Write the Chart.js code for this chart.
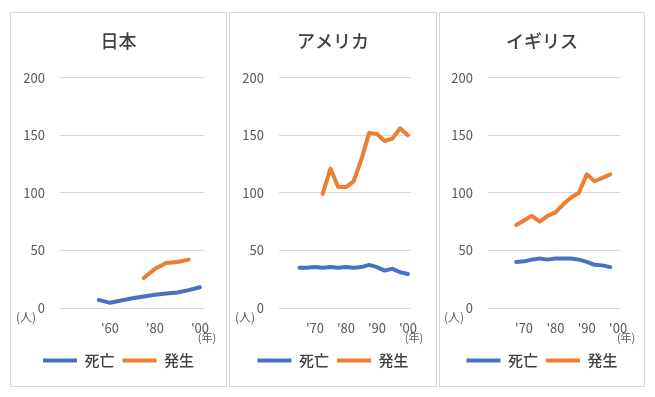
<!DOCTYPE html>
<html>
<head>
<meta charset="utf-8">
<script src="https://cdn.jsdelivr.net/npm/chart.js@4"></script>
<style>
    body { margin: 0; background: #fff; }
    .panel {
        position: absolute;
        top: 12px;
        height: 375px;
        box-sizing: border-box;
        border: 1px solid #D9D9D9;
        background: #fff;
    }
    .panel canvas { display: block; }
</style>
</head>
<body>
<div class="panel" style="left:10px;width:217px"><canvas id="jpChart" width="215" height="373"></canvas></div>
<div class="panel" style="left:229px;width:208px"><canvas id="usChart" width="206" height="373"></canvas></div>
<div class="panel" style="left:439px;width:206px"><canvas id="ukChart" width="204" height="373"></canvas></div>
<script>
// 日本
const jpDeathYears = [1955, 1960, 1965, 1970, 1975, 1980, 1985, 1990, 1995, 2000];
const jpDeaths = [7, 4.5, 6.5, 8.5, 10, 11.5, 12.5, 13.5, 15.5, 18];
const jpCaseYears = [1975, 1980, 1985, 1990, 1995];
const jpCases = [26, 34, 39, 40, 42];
const jpTicks = [1960, 1980, 2000];

// アメリカ
const usDeathYears = [1965, 1967.5, 1970, 1972.5, 1975, 1977.5, 1980, 1982.5, 1985, 1987.5, 1990, 1992.5, 1995, 1997.5, 2000];
const usDeaths = [35, 35, 35.5, 35, 35.5, 35, 35.5, 35, 35.5, 37.5, 35.5, 32.5, 34, 31, 29.5];
const usCaseYears = [1972.5, 1975, 1977.5, 1980, 1982.5, 1985, 1987.5, 1990, 1992.5, 1995, 1997.5, 2000];
const usCases = [99, 121, 105, 105, 110, 129, 152, 151, 145, 147, 156, 150];
const usTicks = [1970, 1980, 1990, 2000];

// イギリス
const ukYears = [1967.5, 1970, 1972.5, 1975, 1977.5, 1980, 1982.5, 1985, 1987.5, 1990, 1992.5, 1995, 1997.5];
const ukDeaths = [40, 40.5, 42, 43, 42, 43, 43, 43, 42, 40, 37.5, 37, 35.5];
const ukCases = [72, 76, 80, 75, 80, 83, 90, 96, 100, 116, 110, 113, 116];
const ukTicks = [1970, 1980, 1990, 2000];

const yTicks = [0, 50, 100, 150, 200];
const seriesNames = ['死亡', '発生'];

const BLUE = '#4472C4';
const ORANGE = '#ED7D31';
const TEXT = '#595959';
const DARK = '#404040';
const FONT = "'Noto Sans CJK JP', 'Noto Sans', sans-serif";

Chart.defaults.font.family = FONT;
Chart.defaults.color = TEXT;

function points(xs, ys) {
    return xs.map((x, i) => ({ x: x, y: ys[i] }));
}

// (人) and (年) unit captions
const unitLabels = {
    id: 'unitLabels',
    afterDraw(chart, args, opts) {
        const { ctx, chartArea, scales } = chart;
        ctx.save();
        ctx.fillStyle = TEXT;
        ctx.textBaseline = 'middle';
        ctx.font = '12px ' + FONT;
        ctx.textAlign = 'right';
        ctx.fillText('(人)', chartArea.left - 24, chartArea.bottom + 9);
        ctx.font = '11px ' + FONT;
        ctx.textAlign = 'center';
        ctx.fillText('(年)', scales.x.getPixelForValue(2000) + opts.shift, chartArea.bottom + 30);
        ctx.restore();
    }
};

function series(label, data, color) {
    return {
        label: label,
        data: data,
        borderColor: color,
        backgroundColor: color,
        borderWidth: 4,
        pointBorderWidth: 4,
        borderCapStyle: 'round',
        borderJoinStyle: 'round'
    };
}

function makeChart(id, title, deaths, cases, xMin, xMax, xTicks, yWidth, padRight, yearShift) {
    return new Chart(document.getElementById(id), {
        type: 'line',
        data: {
            datasets: [
                series(seriesNames[0], deaths, BLUE),
                series(seriesNames[1], cases, ORANGE)
            ]
        },
        options: {
            responsive: false,
            animation: false,
            layout: { padding: { bottom: 8 } },
            elements: {
                line: { tension: 0 },
                point: { radius: 0, hoverRadius: 0 }
            },
            plugins: {
                title: {
                    display: true,
                    text: title,
                    color: DARK,
                    font: { size: 18, weight: 500 },
                    padding: { top: 17, bottom: 26 }
                },
                legend: {
                    position: 'bottom',
                    labels: {
                        usePointStyle: true,
                        pointStyle: 'line',
                        pointStyleWidth: 34,
                        padding: 8,
                        color: DARK,
                        font: { size: 15, weight: 500 }
                    }
                },
                tooltip: { enabled: false },
                unitLabels: { shift: yearShift }
            },
            scales: {
                x: {
                    type: 'linear',
                    min: xMin,
                    max: xMax,
                    grid: { display: false, drawTicks: false },
                    border: { display: false },
                    ticks: {
                        padding: 12,
                        color: TEXT,
                        font: { size: 13 },
                        callback: v => "'" + String(v).slice(2)
                    },
                    afterBuildTicks: scale => {
                        scale.ticks = xTicks.map(v => ({ value: v }));
                    },
                    afterFit: scale => {
                        scale.paddingLeft = 0;
                        scale.paddingRight = padRight;
                        scale.height = 37;
                    }
                },
                y: {
                    min: 0,
                    max: 200,
                    grid: { color: '#D9D9D9', drawTicks: false },
                    border: { display: false },
                    ticks: { padding: 15, color: TEXT, font: { size: 13 } },
                    afterBuildTicks: scale => {
                        scale.ticks = yTicks.map(v => ({ value: v }));
                    },
                    afterFit: scale => {
                        scale.width = yWidth;
                    }
                }
            }
        },
        plugins: [unitLabels]
    });
}

makeChart('jpChart', '日本', points(jpDeathYears, jpDeaths), points(jpCaseYears, jpCases),
    1937.8, 2001.8, jpTicks, 49, 22, 7);
makeChart('usChart', 'アメリカ', points(usDeathYears, usDeaths), points(usCaseYears, usCases),
    1958.4, 2001, usTicks, 49, 25, 6);
makeChart('ukChart', 'イギリス', points(ukYears, ukDeaths), points(ukYears, ukCases),
    1958.5, 2000.6, ukTicks, 48, 24, 8);
</script>
</body>
</html>
